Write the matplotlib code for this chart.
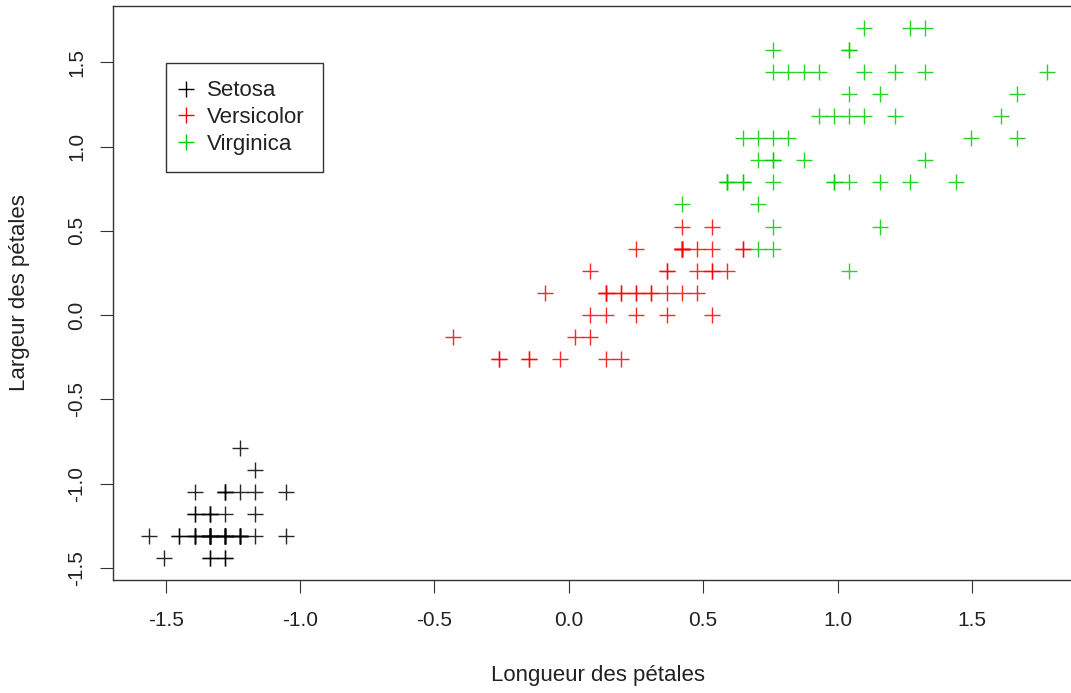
import numpy as np
import matplotlib
matplotlib.use("Agg")
import matplotlib.pyplot as plt
from matplotlib.lines import Line2D

plt.rcParams["font.family"] = ["Liberation Sans", "DejaVu Sans"]

# iris petal measurements (cm), grouped as coloured in the chart
setosa_len = [1.4, 1.4, 1.3, 1.5, 1.4, 1.7, 1.4, 1.5, 1.4, 1.5, 1.5, 1.6, 1.4, 1.1, 1.2, 1.5, 1.3,
              1.4, 1.7, 1.5, 1.7, 1.5, 1.0, 1.7, 1.9, 1.6, 1.6, 1.5, 1.4, 1.6, 1.6, 1.5, 1.5, 1.4,
              1.5, 1.2, 1.3, 1.4, 1.3, 1.5, 1.3, 1.3, 1.3, 1.6, 1.9, 1.4, 1.6, 1.4, 1.5, 1.4]
setosa_wid = [0.2, 0.2, 0.2, 0.2, 0.2, 0.4, 0.3, 0.2, 0.2, 0.1, 0.2, 0.2, 0.1, 0.1, 0.2, 0.4, 0.4,
              0.3, 0.3, 0.3, 0.2, 0.4, 0.2, 0.5, 0.2, 0.2, 0.4, 0.2, 0.2, 0.2, 0.2, 0.4, 0.1, 0.2,
              0.2, 0.2, 0.2, 0.1, 0.2, 0.2, 0.3, 0.3, 0.2, 0.6, 0.4, 0.3, 0.2, 0.2, 0.2, 0.2]

versicolor_len = [4.7, 4.5, 4.9, 4.0, 4.6, 4.5, 4.7, 3.3, 4.6, 3.9, 3.5, 4.2, 4.0, 4.7, 3.6, 4.4,
                  4.5, 4.1, 4.5, 3.9, 4.0, 4.9, 4.7, 4.3, 4.4, 4.8, 4.5, 3.5, 3.8, 3.7, 3.9, 4.5,
                  4.5, 4.7, 4.4, 4.1, 4.0, 4.4, 4.6, 4.0, 3.3, 4.2, 4.2, 4.2, 4.3, 3.0, 4.1]
versicolor_wid = [1.4, 1.5, 1.5, 1.3, 1.5, 1.3, 1.6, 1.0, 1.3, 1.4, 1.0, 1.5, 1.0, 1.4, 1.3, 1.4,
                  1.5, 1.0, 1.5, 1.1, 1.3, 1.5, 1.2, 1.3, 1.4, 1.4, 1.5, 1.0, 1.1, 1.0, 1.2, 1.5,
                  1.6, 1.5, 1.3, 1.3, 1.3, 1.2, 1.4, 1.2, 1.0, 1.3, 1.2, 1.3, 1.3, 1.1, 1.3]

virginica_len = [4.8, 5.0, 5.1,
                 6.0, 5.1, 5.9, 5.6, 5.8, 6.6, 4.5, 6.3, 5.8, 6.1, 5.1, 5.3, 5.5, 5.0, 5.1, 5.3,
                 5.5, 6.7, 6.9, 5.0, 5.7, 4.9, 6.7, 4.9, 5.7, 6.0, 4.8, 4.9, 5.6, 5.8, 6.1, 6.4,
                 5.6, 5.1, 5.6, 6.1, 5.6, 5.5, 4.8, 5.4, 5.6, 5.1, 5.1, 5.9, 5.7, 5.2, 5.0, 5.2,
                 5.4, 5.1]
virginica_wid = [1.8, 1.7, 1.6,
                 2.5, 1.9, 2.1, 1.8, 2.2, 2.1, 1.7, 1.8, 1.8, 2.5, 2.0, 1.9, 2.1, 2.0, 2.4, 2.3,
                 1.8, 2.2, 2.3, 1.5, 2.3, 2.0, 2.0, 1.8, 2.1, 1.8, 1.8, 1.8, 2.1, 1.6, 1.9, 2.0,
                 2.2, 1.5, 1.4, 2.3, 2.4, 1.8, 1.8, 2.1, 2.4, 2.3, 1.9, 2.3, 2.5, 2.3, 1.9, 2.0,
                 2.3, 1.8]

group_names = ["Setosa", "Versicolor", "Virginica"]
group_colors = ["black", "#FF0000", "#00CD00"]
tick_values = [-1.5, -1.0, -0.5, 0.0, 0.5, 1.0, 1.5]
tick_labels = ["-1.5", "-1.0", "-0.5", "0.0", "0.5", "1.0", "1.5"]

# scale() as in R: centre and divide by sample sd over all 150 flowers
all_len = np.array(setosa_len + versicolor_len + virginica_len)
all_wid = np.array(setosa_wid + versicolor_wid + virginica_wid)
len_mu, len_sd = all_len.mean(), all_len.std(ddof=1)
wid_mu, wid_sd = all_wid.mean(), all_wid.std(ddof=1)

groups = [(setosa_len, setosa_wid), (versicolor_len, versicolor_wid), (virginica_len, virginica_wid)]

W, H = 1071, 693
fig = plt.figure(figsize=(W / 100, H / 100), dpi=100)
left, right, top, bottom = 113, 1083, 6.3, 579.5
ax = fig.add_axes([left / W, 1 - bottom / H, (right - left) / W, (bottom - top) / H])

for (gl, gw), name, col in zip(groups, group_names, group_colors):
    x = (np.array(gl) - len_mu) / len_sd
    y = (np.array(gw) - wid_mu) / wid_sd
    ax.plot(x, y, linestyle="none", marker="+", markersize=11, markeredgewidth=1.0,
            color=col, alpha=0.85)

# R-style 4% padding
xs = (all_len - len_mu) / len_sd
ys = (all_wid - wid_mu) / wid_sd
xr = xs.max() - xs.min()
yr = ys.max() - ys.min()
ax.set_xlim(xs.min() - 0.04 * xr, xs.max() + 0.04 * xr)
ax.set_ylim(ys.min() - 0.04 * yr, ys.max() + 0.04 * yr)

ax.set_xticks(tick_values)
ax.set_yticks(tick_values)
ax.set_xticklabels(tick_labels)
ax.set_yticklabels(tick_labels, rotation=90, va="center")
ax.tick_params(axis="both", direction="out", length=9.5, width=0.8, color="#333333",
               labelsize=15, labelcolor="#222222")
ax.tick_params(axis="x", pad=13)
ax.tick_params(axis="y", pad=10)
for s in ax.spines.values():
    s.set_linewidth(1.0)
    s.set_color("#333333")

ax.set_xlabel("Longueur des pétales", fontsize=16, color="#222222")
ax.set_ylabel("Largeur des pétales", fontsize=16, color="#222222")
ax.xaxis.set_label_coords(0.5, (bottom - 675) / (bottom - top))
ax.xaxis.label.set_va("center")
ax.yaxis.set_label_coords((20 - left) / (right - left), 0.5)
ax.yaxis.label.set_va("center")

handles = [Line2D([], [], linestyle="none", marker="+", markersize=11, markeredgewidth=1.0, color=c)
           for c in group_colors]
leg = ax.legend(handles, group_names, loc="upper left",
                bbox_to_anchor=((166 - left) / (right - left), (bottom - 62.7) / (bottom - top)),
                borderaxespad=0, fancybox=False, edgecolor="#333333", framealpha=1,
                fontsize=16, borderpad=0.8, handlelength=0.2, handletextpad=0.85,
                labelspacing=0.25)
leg.get_frame().set_linewidth(1.0)
for t in leg.get_texts():
    t.set_color("#222222")

fig.savefig("out.png", dpi=100)
